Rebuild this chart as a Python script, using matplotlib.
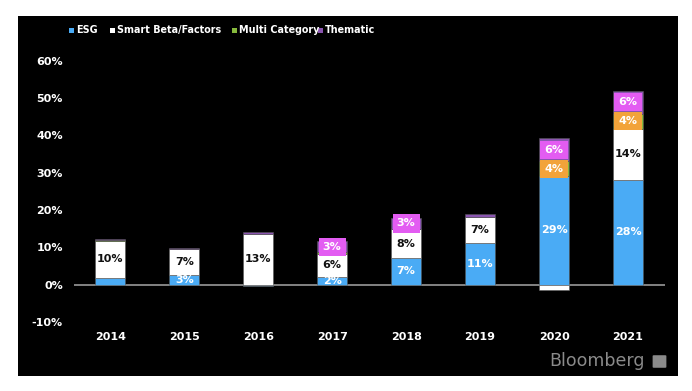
import numpy as np
import matplotlib
matplotlib.use('Agg')
import matplotlib.pyplot as plt
from matplotlib.patches import Rectangle, FancyBboxPatch

# Share of ETF launches by category
years = ['2014', '2015', '2016', '2017', '2018', '2019', '2020', '2021']
esg = [1.8, 2.6, -0.3, 2.0, 7.0, 11.0, 29.0, 28.0]
smart_beta = [9.9, 7.0, 13.6, 6.3, 7.9, 7.2, -1.6, 13.8]
multi = [0.1, 0.0, -0.2, 0.3, 0.0, 0.0, 4.0, 4.0]
thematic = [0.5, 0.3, 0.6, 3.0, 3.0, 0.6, 6.2, 6.2]

esg_labels = ['', '3%', '', '2%', '7%', '11%', '29%', '28%']
sb_labels = ['10%', '7%', '13%', '6%', '8%', '7%', '', '14%']
multi_labels = ['', '', '', '', '', '', '4%', '4%']
them_labels = ['', '', '', '3%', '3%', '', '6%', '6%']

yticks = [-10, 0, 10, 20, 30, 40, 50, 60]

c_esg = '#4aabf5'
c_sb = '#ffffff'
c_multi = '#86b93c'
c_them = '#8a55b0'
c_them_lab = '#e35cf2'
c_multi_lab = '#f2a33a'

fig = plt.figure(figsize=(6.92, 3.91), dpi=100)
fig.patch.set_facecolor('white')

# black panel behind everything
bg = fig.add_axes([18 / 692, 1 - 376 / 391, 660 / 692, 360 / 391])
bg.set_facecolor('black')
bg.set_xticks([])
bg.set_yticks([])
for s in bg.spines.values():
    s.set_visible(False)
bg.set_zorder(0)

ax = fig.add_axes([74 / 692, 1 - 329.3 / 391, 591 / 692, 287.3 / 391])
ax.set_zorder(1)
ax.set_facecolor('none')
x = np.arange(len(years))
w = 0.4

pos_bottom = np.zeros(len(years))
neg_bottom = np.zeros(len(years))
series = [(esg, c_esg, esg_labels, 'white', None),
          (smart_beta, c_sb, sb_labels, '#111111', None),
          (multi, c_multi, multi_labels, 'white', c_multi_lab),
          (thematic, c_them, them_labels, 'white', c_them_lab)]
for vals, col, labs, tcol, boxcol in series:
    vals = np.array(vals)
    bottom = np.where(vals >= 0, pos_bottom, neg_bottom)
    ax.bar(x, vals, w, bottom=bottom, color=col, edgecolor='#555555',
           linewidth=0.4, zorder=3)
    for i, lab in enumerate(labs):
        if not lab:
            continue
        yc = bottom[i] + vals[i] / 2
        bbox = None
        if boxcol:
            bbox = dict(boxstyle='square,pad=0.38', facecolor=boxcol,
                        edgecolor='none')
        ax.text(x[i], yc, lab, ha='center', va='center', color=tcol,
                fontsize=8, fontweight='bold', zorder=5, bbox=bbox)
    pos_bottom = np.where(vals >= 0, pos_bottom + vals, pos_bottom)
    neg_bottom = np.where(vals < 0, neg_bottom + vals, neg_bottom)

ax.axhline(0, color='#999999', linewidth=1.2, zorder=2)
ax.set_xlim(-0.49, 7.5)
ax.set_ylim(-12, 65)
ax.set_yticks(yticks)
ax.set_yticklabels([f'{t}%' for t in yticks])
ax.set_xticks(x)
ax.set_xticklabels(years)
for s in ax.spines.values():
    s.set_visible(False)
ax.tick_params(length=0, colors='white', labelsize=8)
ax.tick_params(axis='x', pad=2)
ax.tick_params(axis='y', pad=8)
for lab in ax.get_xticklabels() + ax.get_yticklabels():
    lab.set_fontweight('bold')

# legend
leg_items = [('ESG', c_esg, 69), ('Smart Beta/Factors', c_sb, 110),
             ('Multi Category', c_multi, 232), ('Thematic', c_them, 318)]
for name, col, px in leg_items:
    fig.patches.append(Rectangle((px / 692, 1 - 33 / 391), 5 / 692, 5 / 391,
                                 transform=fig.transFigure, facecolor=col,
                                 edgecolor='none', zorder=5))
    fig.text((px + 7) / 692, 1 - 30 / 391, name, color='white', fontsize=6.9,
             fontweight='bold', va='center', ha='left', zorder=5)

# source mark
fig.text(645 / 692, 1 - 361 / 391, 'Bloomberg', color='#8a8a8a', fontsize=12.5,
         ha='right', va='center', zorder=5)
fig.patches.append(FancyBboxPatch((654 / 692, 1 - 367 / 391), 11 / 692, 11 / 391,
                                  boxstyle='round,pad=0.002',
                                  transform=fig.transFigure,
                                  facecolor='#8a8a8a', edgecolor='none', zorder=5))

fig.savefig('out.png', dpi=100, facecolor='white')
